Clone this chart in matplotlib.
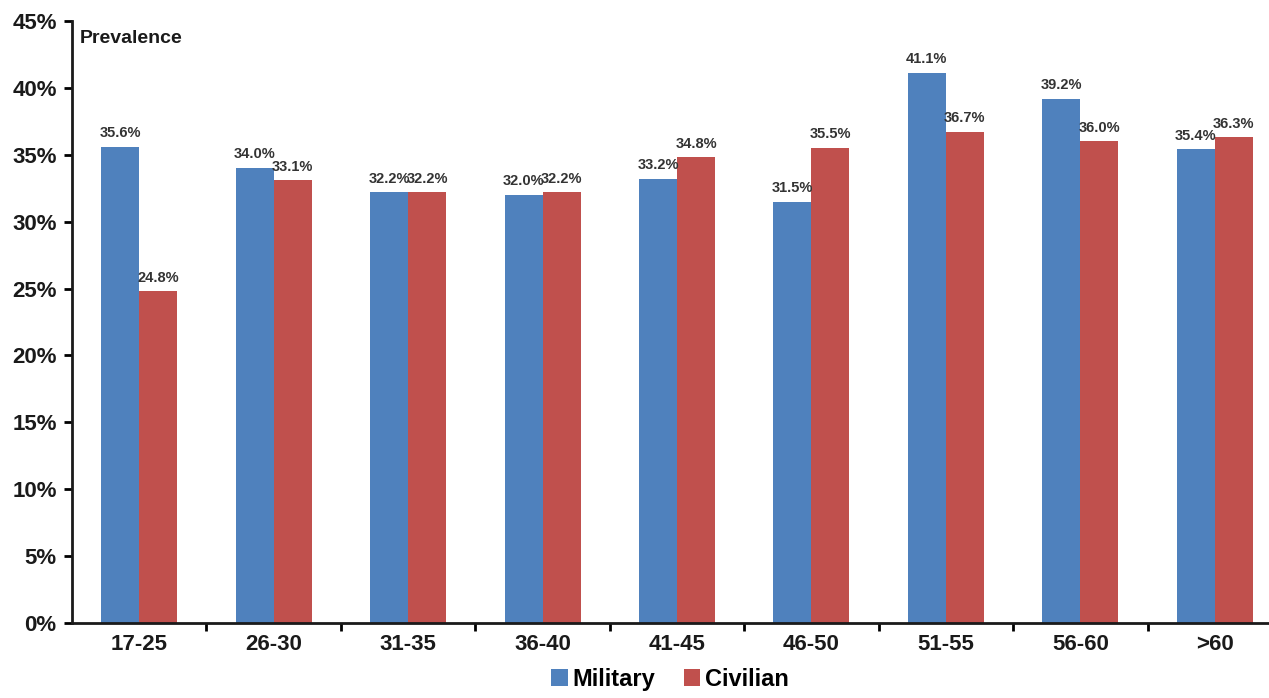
import numpy as np
import matplotlib.pyplot as plt
from matplotlib.ticker import FixedLocator

plt.rcParams['font.family'] = ['Liberation Sans', 'DejaVu Sans']

groups = ['17-25', '26-30', '31-35', '36-40', '41-45', '46-50', '51-55', '56-60', '>60']
military = [35.6, 34.0, 32.2, 32.0, 33.2, 31.5, 41.1, 39.2, 35.4]
civilian = [24.8, 33.1, 32.2, 32.2, 34.8, 35.5, 36.7, 36.0, 36.3]

blue = '#4F81BD'
red = '#C0504D'
txt = '#1a1a1a'

fig = plt.figure(figsize=(12.69, 6.98), dpi=100)
ax = fig.add_axes([72 / 1269, 75 / 698, 1210 / 1269, 602 / 698])

x = np.arange(len(groups))
w = 0.283
bm = ax.bar(x - w / 2, military, w, color=blue, label='Military')
bc = ax.bar(x + w / 2, civilian, w, color=red, label='Civilian')

for bars, vals in ((bm, military), (bc, civilian)):
    for b, v in zip(bars, vals):
        ax.text(b.get_x() + b.get_width() / 2, v + 0.5, f'{v:.1f}%', ha='center', va='bottom',
                fontsize=10.5, fontweight='bold', color='#333333')

ax.set_xlim(-0.5, len(groups) - 0.5)
ax.set_ylim(0, 45)
ax.set_yticks(np.arange(0, 46, 5))
ax.set_yticklabels([f'{t}%' for t in range(0, 46, 5)])
ax.set_xticks(x)
ax.set_xticklabels(groups)
ax.xaxis.set_minor_locator(FixedLocator(x[:-1] + 0.5))
ax.tick_params(axis='x', which='major', length=0, pad=8)
ax.tick_params(axis='x', which='minor', length=6, width=2, direction='out')
ax.tick_params(axis='y', length=6, width=2, direction='out', pad=5)
for lab in ax.get_xticklabels() + ax.get_yticklabels():
    lab.set_fontsize(16)
    lab.set_fontweight('bold')
    lab.set_color(txt)

for s in ['top', 'right']:
    ax.spines[s].set_visible(False)
for s in ['left', 'bottom']:
    ax.spines[s].set_linewidth(2)
    ax.spines[s].set_color(txt)

ax.text(0.006, 0.985, 'Prevalence', transform=ax.transAxes, ha='left', va='top',
        fontsize=14, fontweight='bold', color=txt)

fig.legend(handles=[bm, bc], loc='lower center', bbox_to_anchor=(0.528, -0.02), ncol=2,
           frameon=False, prop={'size': 17, 'weight': 'bold'}, handlelength=0.7,
           handleheight=0.7, handletextpad=0.2, columnspacing=1.2)

fig.savefig('out.png', dpi=100)
